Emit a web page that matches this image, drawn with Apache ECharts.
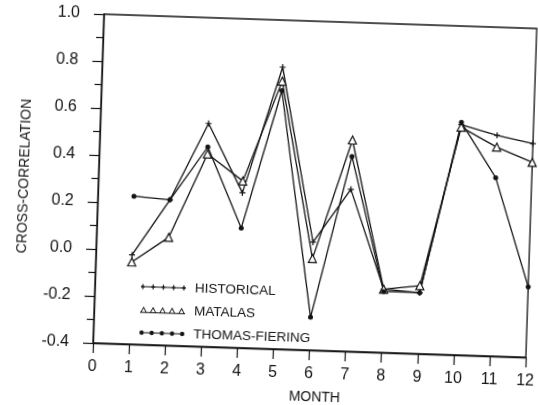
<!DOCTYPE html>
<html>
<head>
<meta charset="utf-8">
<script src="https://cdn.jsdelivr.net/npm/echarts@6/dist/echarts.min.js"></script>
<style>
  html, body { margin: 0; padding: 0; background: #fff; overflow: hidden; }
  #wrap { width: 538px; height: 405px; transform: rotate(1.9deg); transform-origin: 93px 343px; background: #fff; }
  #chart { width: 538px; height: 405px; }
</style>
</head>
<body>
<div id="wrap"><div id="chart"></div></div>
<script>
// ---- data ----
const months = [1, 2, 3, 4, 5, 6, 7, 8, 9, 10, 11, 12];
const historical    = [-0.02, 0.22, 0.55, 0.26, 0.80, 0.06, 0.29, -0.13, -0.14, 0.58, 0.54, 0.51];
const matalas       = [-0.05, 0.06, 0.42, 0.31, 0.74, -0.01, 0.50, -0.13, -0.11, 0.57, 0.49, 0.43];
const thomasFiering = [0.23, 0.22, 0.45, 0.11, 0.70, -0.26, 0.43, -0.14, -0.14, 0.59, 0.36, -0.10];
const seriesNames = ['HISTORICAL', 'MATALAS', 'THOMAS-FIERING'];
const xTicks = [0, 1, 2, 3, 4, 5, 6, 7, 8, 9, 10, 11, 12];
const yMin = -0.4, yMax = 1.0, yStep = 0.2;

const INK = '#141414';

function pairs(vals) { return months.map((m, i) => [m, vals[i]]); }

// legend icons: a line with five markers
function crossIcon() {
  let p = 'M0,3.5H45V4.5H0Z';
  [2, 12.25, 22.5, 32.75, 43].forEach(cx => {
    p += 'M' + (cx - 0.6) + ',1.5h1.2v5h-1.2Z';
    p += 'M' + (cx - 2) + ',3.2h4v1.6h-4Z';
  });
  return 'path://' + p;
}
function triIcon() {
  let p = 'M0,6.8H45V7.8H0Z';
  [3.5, 13, 22.5, 32, 41.5].forEach(cx => {
    p += 'M' + (cx - 3.5) + ',7.8L' + cx + ',1.5L' + (cx + 3.5) + ',7.8Z';
    p += 'M' + (cx - 2) + ',6.8L' + (cx + 2) + ',6.8L' + cx + ',3.4Z';
  });
  return 'path://' + p;
}
function dotIcon() {
  let p = 'M0,3.5H45V4.5H0Z';
  [2.2, 12.3, 22.5, 32.7, 42.8].forEach(cx => {
    p += 'M' + (cx - 2.2) + ',4a2.2,2.2 0 1,1 4.4,0a2.2,2.2 0 1,1 -4.4,0Z';
  });
  return 'path://' + p;
}

const plusSymbol = 'path://M2,0H3V2H5V3H3V5H2V3H0V2H2Z';

const chart = echarts.init(document.getElementById('chart'), null, { renderer: 'canvas' });
chart.setOption({
  animation: false,
  backgroundColor: '#fff',
  grid: { left: 93, top: 14, width: 434, height: 329, show: true, borderColor: INK, borderWidth: 1.3, backgroundColor: 'transparent' },
  legend: {
    orient: 'vertical',
    left: 139,
    top: 278,
    padding: 0,
    itemWidth: 45,
    itemHeight: 8,
    itemGap: 9,
    selectedMode: false,
    textStyle: { fontFamily: 'Liberation Sans', fontSize: 13.5, color: INK, padding: [0, 0, 0, 4] },
    data: [
      { name: seriesNames[0], icon: crossIcon(), itemStyle: { color: INK, borderWidth: 0 } },
      { name: seriesNames[1], icon: triIcon(), itemStyle: { color: INK, borderWidth: 0 } },
      { name: seriesNames[2], icon: dotIcon(), itemStyle: { color: INK, borderWidth: 0 } }
    ]
  },
  xAxis: {
    type: 'value',
    min: xTicks[0],
    max: xTicks[xTicks.length - 1],
    interval: 1,
    name: 'MONTH',
    nameLocation: 'middle',
    nameGap: 40,
    nameTextStyle: { fontFamily: 'Liberation Sans', fontSize: 14, color: INK, padding: [0, 0, 0, 13] },
    axisLine: { show: true, onZero: false, lineStyle: { color: INK, width: 1.3 } },
    axisTick: { show: true, length: 10, lineStyle: { color: INK, width: 1.2 } },
    axisLabel: { margin: 16, fontFamily: 'Liberation Sans', fontSize: 16, color: INK },
    splitLine: { show: false }
  },
  yAxis: {
    type: 'value',
    min: yMin,
    max: yMax,
    interval: yStep,
    name: 'CROSS-CORRELATION',
    nameLocation: 'middle',
    nameGap: 67,
    nameTextStyle: { fontFamily: 'Liberation Sans', fontSize: 14, color: INK },
    axisLine: { show: true, onZero: false, lineStyle: { color: INK, width: 1.3 } },
    axisTick: { show: true, length: 10, lineStyle: { color: INK, width: 1.2 } },
    minorTick: { show: true, splitNumber: 2, length: 7, lineStyle: { color: INK, width: 1.2 } },
    axisLabel: { margin: 24, fontFamily: 'Liberation Sans', fontSize: 16, color: INK, formatter: v => v.toFixed(1) },
    splitLine: { show: false }
  },
  series: [
    {
      name: seriesNames[0], type: 'line', data: pairs(historical),
      symbol: plusSymbol, symbolSize: 6,
      lineStyle: { color: INK, width: 1.3 },
      itemStyle: { color: INK }
    },
    {
      name: seriesNames[1], type: 'line', data: pairs(matalas),
      symbol: 'triangle', symbolSize: 8,
      lineStyle: { color: INK, width: 1.3 },
      itemStyle: { color: '#fff', borderColor: INK, borderWidth: 1.2 }
    },
    {
      name: seriesNames[2], type: 'line', data: pairs(thomasFiering),
      symbol: 'circle', symbolSize: 5,
      lineStyle: { color: INK, width: 1.3 },
      itemStyle: { color: INK }
    }
  ]
});
</script>
</body>
</html>
